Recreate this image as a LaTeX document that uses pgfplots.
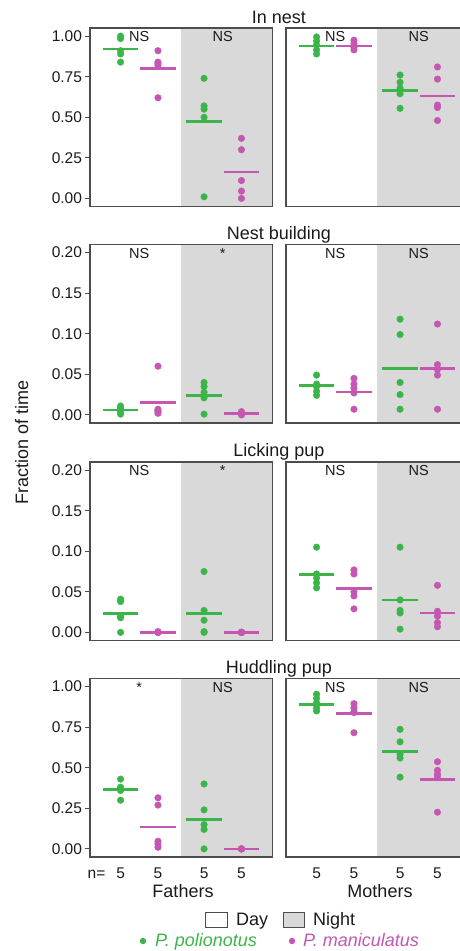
\documentclass[border=0pt]{standalone}
\usepackage{pgfplots}
\pgfplotsset{compat=1.18}
\usepackage{fontspec}
\setmainfont{Liberation Sans}
\definecolor{pgreen}{HTML}{3BB44A}
\definecolor{pmag}{HTML}{C556B2}
\definecolor{nightbg}{HTML}{D9D9D9}
\definecolor{framec}{HTML}{4D4D4D}
\definecolor{txt}{HTML}{1A1A1A}
\newcommand\tickfont{\fontsize{15.5}{18}\selectfont}
\newcommand\titlefont{\fontsize{18}{21}\selectfont}
\newcommand\nsfont{\fontsize{14.5}{17}\selectfont}

\pgfplotsset{
  panel/.style={
    scale only axis, width=182.5pt, height=178.5pt,
    xmin=0, xmax=4, axis on top,
    axis line style={framec, line width=1.1pt},
    xtick=\empty,
    tick style={framec, line width=0.8pt},
    major tick length=4.5pt,
    tick align=outside,
    ytick pos=left,
    yticklabel style={font=\tickfont, text=txt,
      /pgf/number format/fixed, /pgf/number format/fixed zerofill,
      /pgf/number format/precision=2},
    /pgf/number format/assume math mode=true,
  },
  big/.style={ymin=-0.05, ymax=1.05, ytick={0,0.25,0.5,0.75,1}},
  small/.style={ymin=-0.01, ymax=0.21, ytick={0,0.05,0.1,0.15,0.2}},
  noy/.style={ytick=\empty},
  gpts/.style={only marks, mark=*, mark size=3.3pt, pgreen, mark options={draw=none, fill=pgreen}},
  mpts/.style={only marks, mark=*, mark size=3.3pt, pmag, mark options={draw=none, fill=pmag}},
  gline/.style={pgreen, line width=2.6pt, no marks},
  mline/.style={pmag, line width=2.6pt, no marks},
}
\newcommand\night{\fill[nightbg] (rel axis cs:0.5,0) rectangle (rel axis cs:1,1);}
\newcommand\lab[2]{\node[anchor=north, inner sep=0pt, yshift=-3.5pt, font=\nsfont, text=txt] at (rel axis cs:#1,1) {#2};}
% mean lines: green day at 0.67, magenta day 1.49, green night 2.5, magenta night 3.32
\newcommand\means[4]{%
  \addplot[gline] coordinates {(0.285,#1) (1.055,#1)};
  \addplot[mline] coordinates {(1.105,#2) (1.875,#2)};
  \addplot[gline] coordinates {(2.115,#3) (2.885,#3)};
  \addplot[mline] coordinates {(2.935,#4) (3.705,#4)};
}

\begin{document}
\begin{tikzpicture}[x=1pt,y=1pt]
\path[use as bounding box] (0pt,0pt) rectangle (459pt,-951pt);

% ---------------- Row 1: In nest ----------------
\node[anchor=base, font=\titlefont, text=txt] at (279pt,-23pt) {In nest};
\begin{axis}[panel, big, at={(90pt,-28pt)}, anchor=north west]
\night
\means{0.92}{0.80}{0.475}{0.163}
\addplot[gpts] coordinates {(0.67,1.0) (0.67,0.985) (0.67,0.91) (0.67,0.89) (0.67,0.84)
  (2.5,0.74) (2.5,0.57) (2.5,0.55) (2.5,0.50) (2.5,0.01)};
\addplot[mpts] coordinates {(1.49,0.91) (1.49,0.84) (1.49,0.83) (1.49,0.82) (1.49,0.62)
  (3.32,0.37) (3.32,0.30) (3.32,0.11) (3.32,0.045) (3.32,0.0)};
\lab{0.27}{NS}\lab{0.7275}{NS}
\end{axis}
\begin{axis}[panel, big, noy, at={(286pt,-28pt)}, anchor=north west]
\night
\means{0.938}{0.94}{0.665}{0.632}
\addplot[gpts] coordinates {(0.67,0.995) (0.67,0.97) (0.67,0.945) (0.67,0.915) (0.67,0.89)
  (2.5,0.76) (2.5,0.715) (2.5,0.68) (2.5,0.645) (2.5,0.555)};
\addplot[mpts] coordinates {(1.49,0.975) (1.49,0.955) (1.49,0.94) (1.49,0.93) (1.49,0.915)
  (3.32,0.81) (3.32,0.735) (3.32,0.575) (3.32,0.56) (3.32,0.48)};
\lab{0.27}{NS}\lab{0.7275}{NS}
\end{axis}

% ---------------- Row 2: Nest building ----------------
\node[anchor=base, font=\titlefont, text=txt] at (279pt,-239pt) {Nest building};
\begin{axis}[panel, small, at={(90pt,-244.5pt)}, anchor=north west]
\night
\means{0.006}{0.015}{0.024}{0.0017}
\addplot[gpts] coordinates {(0.67,0.011) (0.67,0.008) (0.67,0.006) (0.67,0.004) (0.67,0.001)
  (2.5,0.040) (2.5,0.035) (2.5,0.028) (2.5,0.021) (2.5,0.001)};
\addplot[mpts] coordinates {(1.49,0.060) (1.49,0.007) (1.49,0.005) (1.49,0.004) (1.49,0.002)
  (3.32,0.004) (3.32,0.002) (3.32,0.001) (3.32,0.001) (3.32,0.0)};
\lab{0.27}{NS}\lab{0.7275}{*}
\end{axis}
\begin{axis}[panel, small, noy, at={(286pt,-244.5pt)}, anchor=north west]
\night
\means{0.036}{0.028}{0.057}{0.057}
\addplot[gpts] coordinates {(0.67,0.049) (0.67,0.038) (0.67,0.035) (0.67,0.029) (0.67,0.024)
  (2.5,0.118) (2.5,0.099) (2.5,0.040) (2.5,0.025) (2.5,0.007)};
\addplot[mpts] coordinates {(1.49,0.045) (1.49,0.038) (1.49,0.033) (1.49,0.027) (1.49,0.007)
  (3.32,0.112) (3.32,0.062) (3.32,0.056) (3.32,0.049) (3.32,0.007)};
\lab{0.27}{NS}\lab{0.7275}{NS}
\end{axis}

% ---------------- Row 3: Licking pup ----------------
\node[anchor=base, font=\titlefont, text=txt] at (279pt,-456.5pt) {Licking pup};
\begin{axis}[panel, small, at={(90pt,-462pt)}, anchor=north west]
\night
\means{0.023}{0.0}{0.023}{0.0}
\addplot[gpts] coordinates {(0.67,0.041) (0.67,0.038) (0.67,0.020) (0.67,0.018) (0.67,0.0)
  (2.5,0.075) (2.5,0.027) (2.5,0.015) (2.5,0.001) (2.5,0.0)};
\addplot[mpts] coordinates {(1.49,0.001) (1.49,0.0) (1.49,0.0) (1.49,0.0) (1.49,0.0)
  (3.32,0.0) (3.32,0.0) (3.32,0.0) (3.32,0.0) (3.32,0.0)};
\lab{0.27}{NS}\lab{0.7275}{*}
\end{axis}
\begin{axis}[panel, small, noy, at={(286pt,-462pt)}, anchor=north west]
\night
\means{0.071}{0.054}{0.040}{0.024}
\addplot[gpts] coordinates {(0.67,0.105) (0.67,0.072) (0.67,0.067) (0.67,0.061) (0.67,0.055)
  (2.5,0.105) (2.5,0.040) (2.5,0.027) (2.5,0.024) (2.5,0.004)};
\addplot[mpts] coordinates {(1.49,0.077) (1.49,0.072) (1.49,0.050) (1.49,0.045) (1.49,0.029)
  (3.32,0.058) (3.32,0.026) (3.32,0.020) (3.32,0.012) (3.32,0.007)};
\lab{0.27}{NS}\lab{0.7275}{NS}
\end{axis}

% ---------------- Row 4: Huddling pup ----------------
\node[anchor=base, font=\titlefont, text=txt] at (279pt,-673pt) {Huddling pup};
\begin{axis}[panel, big, at={(90pt,-678.5pt)}, anchor=north west]
\night
\means{0.366}{0.134}{0.181}{0.0}
\addplot[gpts] coordinates {(0.67,0.43) (0.67,0.38) (0.67,0.37) (0.67,0.36) (0.67,0.30)
  (2.5,0.40) (2.5,0.24) (2.5,0.15) (2.5,0.12) (2.5,0.0)};
\addplot[mpts] coordinates {(1.49,0.315) (1.49,0.27) (1.49,0.047) (1.49,0.031) (1.49,0.01)
  (3.32,0.0) (3.32,0.0) (3.32,0.0) (3.32,0.0) (3.32,0.0)};
\lab{0.27}{*}\lab{0.7275}{NS}
\end{axis}
\begin{axis}[panel, big, noy, at={(286pt,-678.5pt)}, anchor=north west]
\night
\means{0.891}{0.835}{0.599}{0.428}
\addplot[gpts] coordinates {(0.67,0.953) (0.67,0.928) (0.67,0.90) (0.67,0.87) (0.67,0.85)
  (2.5,0.737) (2.5,0.66) (2.5,0.582) (2.5,0.56) (2.5,0.442)};
\addplot[mpts] coordinates {(1.49,0.895) (1.49,0.87) (1.49,0.845) (1.49,0.84) (1.49,0.716)
  (3.32,0.537) (3.32,0.484) (3.32,0.46) (3.32,0.447) (3.32,0.226)};
\lab{0.27}{NS}\lab{0.7275}{NS}
\end{axis}

% ---------------- labels ----------------
\node[rotate=90, anchor=base, font=\titlefont, text=txt] at (28pt,-442pt) {Fraction of time};
\node[anchor=base, font=\tickfont, text=txt] at (96.5pt,-878pt) {n=};
\foreach \xx in {120.6,158.0,204.1,241.5,316.6,354.0,400.1,437.5}
  \node[anchor=base, font=\tickfont, text=txt] at (\xx pt,-878pt) {5};
\node[anchor=base, font=\titlefont, text=txt] at (183pt,-897pt) {Fathers};
\node[anchor=base, font=\titlefont, text=txt] at (380pt,-897pt) {Mothers};

% ---------------- legend ----------------
\draw[framec, line width=0.8pt, fill=white] (205pt,-912pt) rectangle (227pt,-927pt);
\node[anchor=base west, inner sep=0pt, font=\titlefont, text=txt] at (236pt,-925pt) {Day};
\draw[framec, line width=0.8pt, fill=nightbg] (283pt,-912pt) rectangle (304pt,-927pt);
\node[anchor=base west, inner sep=0pt, font=\titlefont, text=txt] at (313pt,-925pt) {Night};
\fill[pgreen] (143pt,-941pt) circle (3.2pt);
\node[anchor=base west, inner sep=0pt, font=\titlefont\itshape, text=pgreen] at (155pt,-946.5pt) {P. polionotus};
\fill[pmag] (292pt,-941pt) circle (3.2pt);
\node[anchor=base west, inner sep=0pt, font=\titlefont\itshape, text=pmag] at (303pt,-946.5pt) {P. maniculatus};
\end{tikzpicture}
\end{document}
